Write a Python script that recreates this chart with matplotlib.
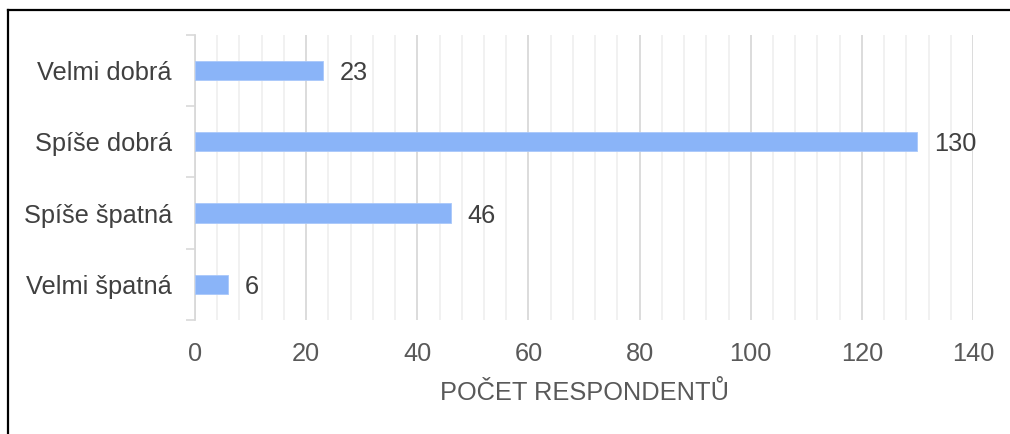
import matplotlib.pyplot as plt
from matplotlib.lines import Line2D
from matplotlib.ticker import MultipleLocator, FixedLocator

plt.rcParams['font.family'] = ['Liberation Sans', 'DejaVu Sans']

# data
categories = ['Velmi dobrá', 'Spíše dobrá', 'Spíše špatná', 'Velmi špatná']
values = [23, 130, 46, 6]
x_label = 'POČET RESPONDENTŮ'

BAR_COLOR = '#8AB4F8'
GRID_MAJOR = '#d9d9d9'
GRID_MINOR = '#eeeeee'
TEXT_DARK = '#404040'
TEXT_TICK = '#595959'
FS = 18.3

fig = plt.figure(figsize=(10.1, 4.34), dpi=100)
ax = fig.add_axes([0.1931, 0.2627, 0.7703, 0.6567])

pos = list(range(len(categories)))
ax.barh(pos, values, height=0.27, color=BAR_COLOR, edgecolor='#a9c8fa', linewidth=0.6, zorder=3)

for p, v in zip(pos, values):
    ax.annotate(str(v), (v, p), xytext=(12, 0), textcoords='offset points',
                va='center_baseline', ha='left', fontsize=FS, color=TEXT_DARK)

ax.set_xlim(0, 140)
ax.set_ylim(3.5, -0.5)
ax.xaxis.set_major_locator(MultipleLocator(20))
ax.xaxis.set_minor_locator(MultipleLocator(4))
ax.grid(axis='x', which='major', color=GRID_MAJOR, linewidth=1.3, zorder=0)
ax.grid(axis='x', which='minor', color=GRID_MINOR, linewidth=1.1, zorder=0)

ax.set_yticks(pos)
ax.set_yticklabels(categories, va='center_baseline')
ax.yaxis.set_minor_locator(FixedLocator([-0.5, 0.5, 1.5, 2.5, 3.5]))

ax.tick_params(axis='x', which='both', length=0, pad=15.5, labelsize=FS, labelcolor=TEXT_TICK)
ax.tick_params(axis='y', which='major', length=0, pad=16.5, labelsize=FS, labelcolor=TEXT_DARK)
ax.tick_params(axis='y', which='minor', length=6.5, width=1.2, color=GRID_MAJOR)

for s in ['top', 'right', 'bottom']:
    ax.spines[s].set_visible(False)
ax.spines['left'].set_color(GRID_MAJOR)
ax.spines['left'].set_linewidth(1.3)

ax.set_xlabel(x_label, fontsize=FS, color=TEXT_TICK, labelpad=11)

# outer frame (top and left edges visible)
fig.add_artist(Line2D([8 / 1010, 1.0], [1 - 10 / 434, 1 - 10 / 434], color='black', linewidth=1.6))
fig.add_artist(Line2D([8 / 1010, 8 / 1010], [0.0, 1 - 10 / 434], color='black', linewidth=1.6))

fig.savefig('out.png', dpi=100, facecolor='white')
